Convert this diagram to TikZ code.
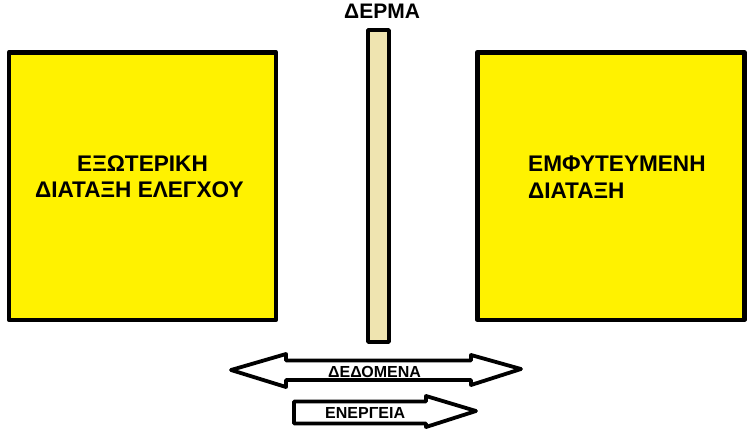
\documentclass[tikz,border=0pt]{standalone}
\usepackage{fontspec}
\setmainfont{Liberation Sans}
\newfontfamily\heavyfont{Liberation Sans Bold}
\usepackage{xcolor}
\usetikzlibrary{positioning}
\definecolor{paintyellow}{RGB}{255,242,0}
\definecolor{skintan}{RGB}{239,228,176}

\begin{document}
\begin{tikzpicture}[x=1pt,y=-1pt,line join=round]
	\tikzstyle{block}=[draw, fill=paintyellow, line width=4.5pt, inner sep=0pt, minimum width=267pt, minimum height=267.5pt]
	\tikzstyle{lbl}=[anchor=base west, inner sep=0pt, font=\heavyfont\fontsize{21}{24}\selectfont]
	\tikzstyle{boxlbl}=[anchor=base west, inner sep=0pt, font=\heavyfont\fontsize{22.6}{26}\selectfont]
	\tikzstyle{small}=[anchor=base west, inner sep=0pt, font=\heavyfont\fontsize{16}{19}\selectfont]
	\tikzstyle{bigarrow}=[draw, fill=white, line width=3.8pt]
	\useasboundingbox (0,0) rectangle (754,432);
	\fill[white] (0,0) rectangle (754,432);

	\node[block] (ext) at (142.5,186) {};
	\node[block] (impl) at (610.75,186) {};
	\node[draw, fill=skintan, line width=3.5pt, inner sep=0pt, minimum width=21pt, minimum height=312pt] (skin) at (378.5,186) {};

	\node[lbl] (skinlbl) at (344,18) {ΔΕΡΜΑ};
	\node[boxlbl] (ext1) at (77,171) {ΕΞΩΤΕΡΙΚΗ};
	\node[boxlbl] (ext2) at (35,197) {ΔΙΑΤΑΞΗ ΕΛΕΓΧΟΥ};
	\node[boxlbl] (impl1) at (528,171) {ΕΜΦΥΤΕΥΜΕΝΗ};
	\node[boxlbl] (impl2) at (528,198) {ΔΙΑΤΑΞΗ};

	% data, both ways
	\draw[bigarrow] (231,370) -- (286,354) -- (286,360.5) -- (471,360.5) -- (471,355)
		-- (521,369) -- (471,385) -- (471,380) -- (286,380) -- (286,387) -- cycle;
	% energy, one way
	\draw[bigarrow] (294,401.5) -- (426,401.5) -- (426,396) -- (476,411)
		-- (426,427) -- (426,423.5) -- (294,423.5) -- cycle;

	\node[small] (data) at (328,377) {ΔΕΔΟΜΕΝΑ};
	\node[small] (energy) at (325,418) {ΕΝΕΡΓΕΙΑ};
\end{tikzpicture}
\end{document}
